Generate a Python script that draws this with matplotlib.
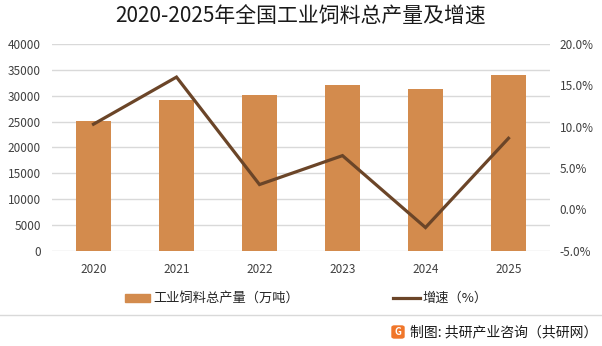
import matplotlib
matplotlib.use("Agg")
import matplotlib.pyplot as plt
from matplotlib.patches import FancyBboxPatch, Rectangle
from matplotlib.lines import Line2D

plt.rcParams['font.family'] = ['Noto Sans CJK SC', 'DejaVu Sans']

years = ["2020", "2021", "2022", "2023", "2024", "2025"]
output = [25150, 29200, 30200, 32100, 31300, 34050]
growth = [10.3, 16.0, 3.0, 6.5, -2.2, 8.6]
left_ticks = [0, 5000, 10000, 15000, 20000, 25000, 30000, 35000, 40000]
right_ticks = [-5, 0, 5, 10, 15, 20]

bar_color = "#D38B4D"
line_color = "#6B4528"
text_color = "#404040"

W, H = 602, 346
fig = plt.figure(figsize=(W / 100, H / 100), dpi=100)
ax = fig.add_axes([52 / W, (H - 250.7) / H, (550 - 52) / W, (250.7 - 44) / H])
x = list(range(len(years)))
ax.bar(x, output, width=0.41, color=bar_color, zorder=2)
ax.set_ylim(0, 40000)
ax.set_xlim(-0.5, len(years) - 0.5)
ax.set_yticks(left_ticks)
ax.set_yticklabels([str(t) for t in left_ticks])
ax.set_xticks(x)
ax.set_xticklabels(years)
ax.grid(axis='y', color="#D9D9D9", linewidth=1, zorder=0)
ax.set_axisbelow(True)
for s in ax.spines.values():
    s.set_visible(False)
ax.tick_params(axis='both', length=0, labelsize=8.5, colors=text_color)
ax.tick_params(axis='y', pad=8)
ax.tick_params(axis='x', pad=9)

ax2 = ax.twinx()
ax2.plot(x, growth, color=line_color, linewidth=2.3, zorder=3, solid_joinstyle='miter')
ax2.set_ylim(-5, 20)
ax2.set_yticks(right_ticks)
ax2.set_yticklabels([f"{t:.1f}%" for t in right_ticks])
for s in ax2.spines.values():
    s.set_visible(False)
ax2.tick_params(axis='y', length=0, labelsize=8.5, colors=text_color, pad=7)

fig.text(0.5, 1 - 17 / H, "2020-2025年全国工业饲料总产量及增速", ha='center', va='center',
         fontsize=15, color="#1a1a1a")

# legend
ly = 1 - 298 / H
fig.patches.append(Rectangle((125 / W, ly - 4 / H), 25 / W, 8 / H, transform=fig.transFigure,
                             color=bar_color, figure=fig))
fig.text(153 / W, ly, "工业饲料总产量（万吨）", ha='left', va='center', fontsize=9.5, color="#262626")
fig.lines.append(Line2D([393 / W, 420 / W], [ly, ly], transform=fig.transFigure,
                        color=line_color, linewidth=2.3, figure=fig))
fig.text(422 / W, ly, "增速（%）", ha='left', va='center', fontsize=9.5, color="#262626")

# separator
sy = 1 - 314.5 / H
fig.lines.append(Line2D([0, 1], [sy, sy], transform=fig.transFigure,
                        color="#D9D9D9", linewidth=1, figure=fig))

# footer
fy = 1 - 332 / H
fig.patches.append(FancyBboxPatch((392 / W, fy - 6 / H), 12 / W, 12 / H,
                                  boxstyle="round,pad=0,rounding_size=0.004",
                                  transform=fig.transFigure, color="#F0762A", figure=fig))
fig.text(398 / W, fy, "G", ha='center', va='center', fontsize=7, color="white", fontweight='bold')
fig.text(410 / W, fy, "制图: 共研产业咨询（共研网）", ha='left', va='center', fontsize=10, color="#1a1a1a")

fig.savefig("out.png", dpi=100)
